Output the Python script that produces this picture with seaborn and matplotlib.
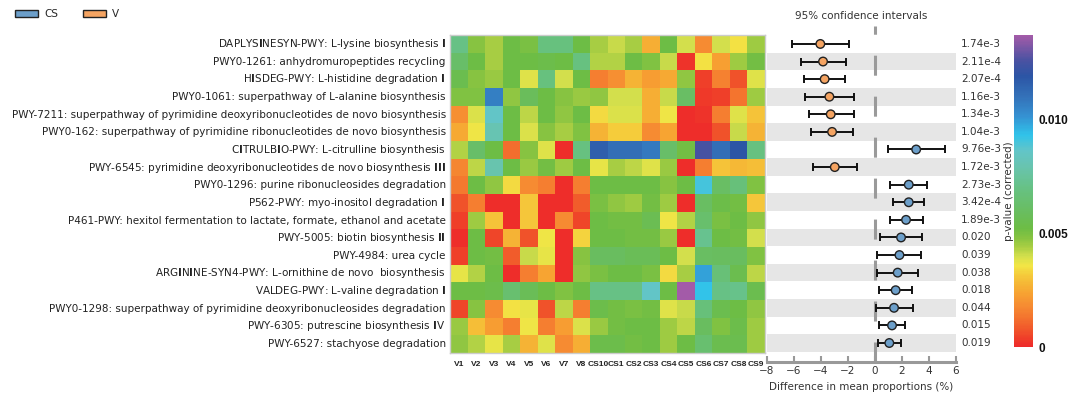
import re
import numpy as np
import pandas as pd
import matplotlib
matplotlib.use("Agg")
import matplotlib.pyplot as plt
import matplotlib.transforms as mtransforms
from matplotlib.colors import LinearSegmentedColormap
from matplotlib.patches import Patch
import seaborn as sns

# ---------------- data ----------------
pathways = [
    "DAPLYSINESYN-PWY: L-lysine biosynthesis I",
    "PWY0-1261: anhydromuropeptides recycling",
    "HISDEG-PWY: L-histidine degradation I",
    "PWY0-1061: superpathway of L-alanine biosynthesis",
    "PWY-7211: superpathway of pyrimidine deoxyribonucleotides de novo biosynthesis",
    "PWY0-162: superpathway of pyrimidine ribonucleotides de novo biosynthesis",
    "CITRULBIO-PWY: L-citrulline biosynthesis",
    "PWY-6545: pyrimidine deoxyribonucleotides de novo biosynthesis III",
    "PWY0-1296: purine ribonucleosides degradation",
    "P562-PWY: myo-inositol degradation I",
    "P461-PWY: hexitol fermentation to lactate, formate, ethanol and acetate",
    "PWY-5005: biotin biosynthesis II",
    "PWY-4984: urea cycle",
    "ARGININE-SYN4-PWY: L-ornithine de novo  biosynthesis",
    "VALDEG-PWY: L-valine degradation I",
    "PWY0-1298: superpathway of pyrimidine deoxyribonucleosides degradation",
    "PWY-6305: putrescine biosynthesis IV",
    "PWY-6527: stachyose degradation",
]
samples = ["V1", "V2", "V3", "V4", "V5", "V6", "V7", "V8",
           "CS10", "CS1", "CS2", "CS3", "CS4", "CS5", "CS6", "CS7", "CS8", "CS9"]

# heatmap values (x 1e-3)
heat_milli = [
    [7.0, 4.8, 4.4, 5.2, 5.0, 6.8, 6.8, 5.2, 4.4, 4.1, 4.4, 2.6, 5.2, 4.0, 1.8, 4.0, 3.5, 4.5],
    [6.2, 5.2, 4.4, 5.2, 5.2, 5.4, 5.2, 6.9, 4.3, 4.3, 5.2, 4.9, 4.1, 0.2, 3.5, 2.3, 4.5, 5.1],
    [5.5, 4.8, 4.6, 5.2, 3.8, 6.8, 4.0, 5.2, 1.5, 1.9, 2.7, 2.2, 2.5, 4.7, 0.4, 1.6, 0.7, 3.8],
    [4.9, 4.9, 10.6, 4.7, 5.8, 5.2, 4.8, 4.6, 4.7, 4.0, 4.0, 2.6, 4.1, 6.1, 0.3, 0.4, 1.3, 4.5],
    [1.9, 3.9, 8.6, 5.2, 4.2, 5.2, 4.7, 5.2, 3.4, 3.9, 3.9, 2.6, 3.6, 0.1, 0.2, 1.5, 3.8, 3.0],
    [2.5, 3.6, 8.0, 5.2, 3.9, 4.8, 4.4, 4.9, 2.7, 3.2, 3.2, 1.8, 2.4, 0.1, 0.1, 0.7, 4.1, 2.7],
    [4.3, 6.2, 5.2, 1.2, 4.8, 3.8, 0.1, 6.9, 11.6, 11.1, 11.1, 10.8, 6.2, 5.1, 12.5, 11.1, 11.9, 6.9],
    [1.7, 4.2, 7.9, 5.2, 4.6, 5.1, 4.5, 5.2, 3.7, 4.4, 4.2, 3.8, 4.6, 0.1, 1.5, 3.0, 2.8, 2.9],
    [1.4, 5.2, 4.7, 3.4, 1.8, 1.5, 0.1, 1.5, 5.2, 5.2, 5.2, 5.2, 4.8, 5.2, 9.0, 6.1, 6.7, 4.9],
    [0.7, 1.5, 0.1, 0.1, 3.1, 0.1, 0.1, 0.9, 5.0, 4.7, 4.5, 5.1, 4.5, 0.1, 6.0, 5.3, 5.1, 3.1],
    [0.4, 4.5, 3.0, 0.1, 3.1, 0.1, 1.8, 0.5, 5.2, 5.1, 5.1, 5.6, 3.6, 4.3, 6.3, 5.0, 5.2, 4.7],
    [0.1, 5.2, 0.5, 2.7, 0.7, 3.6, 0.1, 3.3, 5.2, 5.2, 5.1, 5.1, 4.6, 0.1, 7.2, 5.2, 5.1, 4.0],
    [0.4, 5.2, 5.1, 0.9, 4.1, 3.7, 0.1, 4.8, 5.9, 5.9, 5.7, 5.7, 5.2, 4.0, 6.0, 5.9, 5.9, 4.9],
    [3.7, 4.3, 5.2, 0.1, 1.5, 2.4, 0.1, 4.7, 5.0, 5.2, 5.2, 5.0, 3.4, 4.4, 9.9, 6.6, 5.5, 4.2],
    [5.2, 5.2, 5.4, 6.4, 5.7, 5.2, 4.9, 5.2, 7.0, 7.0, 7.0, 8.6, 5.2, 13.7, 9.3, 7.0, 7.1, 5.5],
    [0.5, 4.8, 1.8, 3.5, 3.7, 0.7, 4.2, 1.5, 5.4, 5.1, 5.0, 5.1, 3.8, 4.1, 6.7, 5.5, 5.2, 4.7],
    [4.6, 2.9, 2.2, 1.5, 3.6, 1.5, 2.2, 3.9, 4.6, 5.1, 5.2, 5.2, 4.5, 4.2, 5.9, 4.9, 5.4, 4.5],
    [4.7, 4.3, 3.7, 4.4, 2.7, 3.8, 1.8, 2.6, 5.4, 5.4, 5.1, 5.2, 4.5, 5.2, 6.4, 5.5, 5.5, 4.5],
]

mean_diff = [-4.05, -3.85, -3.73, -3.38, -3.28, -3.18, 3.05, -2.98, 2.50,
             2.50, 2.30, 1.93, 1.81, 1.68, 1.53, 1.41, 1.26, 1.06]
ci_low = [-6.16, -5.49, -5.27, -5.22, -4.89, -4.74, 0.96, -4.60, 1.14,
          1.36, 1.11, 0.37, 0.14, 0.14, 0.32, 0.07, 0.32, 0.22]
ci_high = [-1.89, -2.17, -2.24, -1.59, -1.59, -1.64, 5.16, -1.35, 3.82,
           3.64, 3.54, 3.49, 3.42, 3.22, 2.75, 2.80, 2.23, 1.91]
p_values = ["1.74e-3", "2.11e-4", "2.07e-4", "1.16e-3", "1.34e-3", "1.04e-3",
            "9.76e-3", "1.72e-3", "2.73e-3", "3.42e-4", "1.89e-3", "0.020",
            "0.039", "0.038", "0.018", "0.044", "0.015", "0.019"]
groups = ["CS", "V"]
group_colors = ["#6c9fca", "#f5a462"]
x_ticks = [-8, -6, -4, -2, 0, 2, 4, 6]
cbar_ticks = [0, 0.005, 0.010]
cbar_ticklabels = ["0", "0.005", "0.010"]

# ---------------- style ----------------
sns.set_style("white")
plt.rcParams["font.family"] = ["DejaVu Sans"]
plt.rcParams["mathtext.fontset"] = "dejavusans"

stops = [(0.0, "#EE2A2A"), (0.03, "#EF4129"), (0.06, "#F15A2B"), (0.10, "#F4782F"),
         (0.13, "#F68B32"), (0.17, "#F7A232"), (0.20, "#F5B535"), (0.23, "#F5CB3B"),
         (0.26, "#F2E645"), (0.29, "#D3DF4C"), (0.32, "#A9CE43"), (0.35, "#86C341"),
         (0.38, "#6DBD45"), (0.43, "#69BD5E"), (0.50, "#67C17F"), (0.58, "#68C4B0"),
         (0.63, "#62C5C8"), (0.68, "#30C3EA"), (0.74, "#3592D2"), (0.80, "#3473BA"),
         (0.87, "#2C55A5"), (0.92, "#4A52A2"), (1.0, "#A35BA8")]
cmap = LinearSegmentedColormap.from_list("pval", stops)

W, H = 1083, 395
fig = plt.figure(figsize=(W / 100, H / 100), dpi=100)

def px_axes(x0, y0, x1, y1):
    return fig.add_axes([x0 / W, 1 - y1 / H, (x1 - x0) / W, (y1 - y0) / H])

hax = px_axes(450, 35.2, 765, 352.9)
cax = px_axes(1014, 35, 1033, 347)
ciax = px_axes(767, 26, 956, 362)

# ---------------- heatmap ----------------
df = pd.DataFrame(np.array(heat_milli) / 1000.0, index=pathways, columns=samples)
row_labels = [re.sub(r"I+", lambda m: r"$\mathbf{" + m.group(0) + "}$", p) for p in pathways]
sns.heatmap(df, ax=hax, cmap=cmap, vmin=0, vmax=0.0137, cbar_ax=cax,
            xticklabels=samples, yticklabels=row_labels)
hax.tick_params(axis="both", length=0)
hax.tick_params(axis="y", pad=3)
hax.tick_params(axis="x", pad=6)
for t in hax.get_yticklabels():
    t.set_fontsize(7.5)
    t.set_color("#222222")
    t.set_rotation(0)
for t in hax.get_xticklabels():
    t.set_fontsize(6)
    t.set_fontweight("bold")
    t.set_family("Liberation Sans")
    t.set_color("#222222")
    t.set_rotation(0)
for s in hax.spines.values():
    s.set_visible(True)
    s.set_color("#cccccc")
    s.set_linewidth(1.0)

# colorbar
cax.set_yticks(cbar_ticks)
cax.set_yticklabels(cbar_ticklabels)
cax.tick_params(length=0, pad=4)
for t in cax.get_yticklabels():
    t.set_fontsize(8.5)
    t.set_fontweight("bold")
    t.set_family("Liberation Sans")
    t.set_color("#111111")
for s in cax.spines.values():
    s.set_visible(False)
cax.yaxis.set_label_position("left")
cax.set_ylabel("p-value (corrected)", fontsize=7.5, color="#333333", labelpad=0)

# ---------------- confidence intervals ----------------
rows = np.arange(len(pathways))
md = np.array(mean_diff)
lo = np.array(ci_low)
hi = np.array(ci_high)
grp = np.where(md > 0, groups[0], groups[1])

ciax.set_xlim(-8, 6)
for i in rows:
    if i % 2 == 1:
        ciax.axhspan(i - 0.5, i + 0.5, color="#E6E6E6", lw=0, zorder=0)
lw0 = 2.2
ciax.axvline(0, color="#9a9a9a", lw=lw0, ls=(0, (14.4 / lw0, 15.1 / lw0)), zorder=1)
ciax.errorbar(md, rows, xerr=[md - lo, hi - md], fmt="none", ecolor="#111111",
              elinewidth=1.4, capsize=2.9, capthick=1.4, zorder=2)
sns.scatterplot(x=md, y=rows, hue=grp, hue_order=groups,
                palette=dict(zip(groups, group_colors)), s=38,
                edgecolor="#222222", linewidth=1.0, legend=False, zorder=3, ax=ciax)
ciax.set_ylim(len(rows) - 1 + 1.08, -1.02)

trans = mtransforms.blended_transform_factory(ciax.transAxes, ciax.transData)
for i, p in zip(rows, p_values):
    ciax.text(1.026, i, p, transform=trans, va="center", ha="left",
              fontsize=7.5, color="#333333")

for side in ["left", "right", "top"]:
    ciax.spines[side].set_visible(False)
ciax.spines["bottom"].set_color("#999999")
ciax.spines["bottom"].set_linewidth(2.2)
ciax.set_yticks([])
ciax.set_ylabel("")
ciax.set_xticks(x_ticks)
ciax.tick_params(axis="x", direction="in", length=4, width=1.5, color="#999999",
                 labelsize=7.5, labelcolor="#333333", pad=3, bottom=True)
ciax.set_xlabel("Difference in mean proportions (%)", fontsize=7.5, color="#333333", labelpad=4)
ciax.set_title("95% confidence intervals", fontsize=7.5, color="#333333", pad=5)

# legend
handles = [Patch(facecolor=c, edgecolor="#222222", linewidth=1.0, label=g)
           for g, c in zip(groups, group_colors)]
fig.legend(handles=handles, loc="upper left", bbox_to_anchor=(0.005, 1.0), ncol=2,
           frameon=False, fontsize=7.5, handlelength=2.2, handleheight=0.65,
           columnspacing=2.4, handletextpad=0.6)

fig.savefig("out.png", dpi=100)
